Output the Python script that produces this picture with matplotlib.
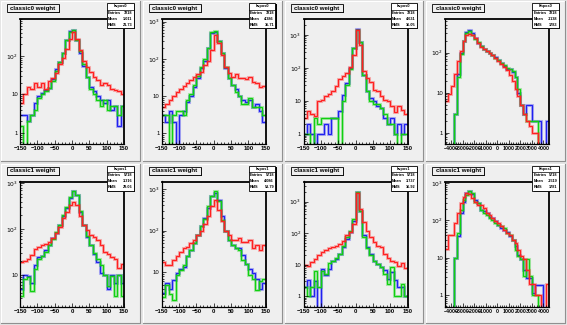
import numpy as np
import matplotlib
matplotlib.use('Agg')
import matplotlib.pyplot as plt
from matplotlib.patches import Rectangle
from matplotlib.ticker import FixedLocator, MultipleLocator, NullFormatter

plt.rcParams['font.family'] = ['Liberation Sans', 'DejaVu Sans']

titles = ['classic0 weight'] * 4 + ['classic1 weight'] * 4
stat_names = ['hvpos0', 'hvpos0', 'hvpos0', 'hhpos0', 'hvpos1', 'hvpos1', 'hvpos1', 'hhpos1']
entries = ['3218'] * 4 + ['5718'] * 4
means = ['1.011', '4.386', '4.631', '-1138', '3.316', '4.086', '3.737', '-1519']
rmss = ['21.73', '35.71', '16.05', '1783', '29.06', '53.79', '16.92', '1781']

# narrow pads: 30 bins from -150 to 150 ; wide pads: 36 bins from -4500 to 4500
p1_red = [6, 10, 16, 14, 20, 16, 20, 14, 22, 27, 37, 60, 90, 150, 280, 420, 280, 140, 75, 50, 38, 28, 24, 18, 20, 18, 14, 13, 12, 10]
p1_blue = [3, 3, 2, 3, 6, 9, 11, 13, 15, 25, 45, 70, 120, 250, 450, 480, 250, 120, 55, 28, 16, 12, 9, 7, 6, 7, 4, 5, 1.5, 5]
p1_green = [1.5, 0, 2, 3, 4, 8, 10, 12, 15, 22, 40, 70, 120, 250, 420, 470, 260, 130, 60, 28, 14, 10, 7, 5, 7, 4, 5, 5, 3, 5]

p2_red = [5, 6, 8, 10, 13, 15, 18, 22, 27, 33, 40, 45, 70, 90, 170, 430, 270, 130, 62, 42, 33, 40, 30, 30, 28, 33, 24, 22, 17, 18]
p2_blue = [3, 2, 4, 2, 0, 3, 4, 7, 10, 17, 30, 55, 90, 200, 500, 540, 300, 140, 55, 30, 20, 15, 10, 8, 7, 8, 5, 6, 4, 2]
p2_green = [3, 3, 0, 3, 4, 4, 3, 8, 11, 20, 35, 60, 100, 200, 520, 560, 300, 140, 60, 30, 20, 13, 10, 6, 6, 9, 5, 5, 5, 3]

p3_red = [3, 5, 4, 3.5, 10, 11, 14, 16, 20, 28, 45, 55, 70, 110, 250, 1400, 500, 80, 50, 38, 22, 20, 14, 11, 10, 7, 4.5, 7, 5.5, 4]
p3_blue = [1, 2, 1, 0, 1, 1, 2, 1, 3, 3, 5, 15, 35, 100, 400, 1500, 600, 60, 20, 12, 10, 7, 6, 3, 2, 3, 1, 2, 1, 2]
p3_green = [1, 1, 0, 3, 2, 3, 3, 3, 3, 3, 0, 10, 30, 90, 400, 1400, 600, 60, 20, 10, 8, 8, 6, 4, 2, 2, 1, 0, 1, 1]

p4_red = [6, 9, 15, 30, 60, 110, 200, 270, 290, 270, 230, 170, 140, 120, 110, 95, 85, 75, 62, 52, 44, 36, 28, 20, 12, 8, 5, 3, 2, 1.5, 1, 1, 0.3, 0, 0, 0]
p4_blue = [0, 0, 0, 3, 30, 100, 200, 320, 360, 300, 230, 170, 150, 125, 110, 100, 88, 78, 65, 55, 46, 40, 38, 33, 25, 10, 5, 3, 5, 5, 2, 2, 2, 0, 0, 2]
p4_green = [0, 0, 0, 3, 25, 90, 190, 300, 340, 280, 220, 180, 150, 125, 110, 95, 85, 75, 65, 55, 48, 42, 38, 34, 25, 12, 5, 3, 2, 2, 2, 2, 0, 0, 0, 0]

p5_red = [19, 20, 22, 27, 37, 40, 44, 48, 52, 62, 80, 110, 170, 240, 340, 400, 330, 190, 120, 95, 73, 68, 57, 44, 31, 29, 24, 22, 14, 17]
p5_blue = [4.8, 10, 9.5, 6.7, 16, 24, 26, 34, 44, 62, 80, 120, 190, 290, 480, 670, 570, 240, 120, 68, 44, 29, 19, 11, 10, 4.8, 10, 6.7, 10, 6.7]
p5_green = [3.4, 8, 9, 4.4, 13, 22, 26, 32, 44, 60, 85, 125, 200, 300, 500, 680, 560, 250, 125, 70, 44, 30, 22, 16, 10, 5.7, 9.5, 3.4, 10, 3.4]

p6_red = [18, 15, 15, 20, 24, 31, 37, 41, 50, 60, 79, 100, 140, 220, 380, 550, 310, 165, 100, 79, 60, 60, 65, 54, 54, 60, 37, 45, 34, 45]
p6_blue = [3.1, 5.4, 4, 6.5, 9.4, 12, 13.5, 24, 34, 50, 79, 125, 200, 345, 660, 800, 550, 220, 100, 60, 45, 37, 37, 26, 16, 12, 9.4, 7, 4, 5.4]
p6_green = [2.5, 5, 3, 2.1, 8.5, 11, 15, 24, 34, 50, 79, 125, 190, 380, 660, 870, 500, 180, 100, 60, 45, 37, 34, 20, 16, 8.5, 7, 3.7, 6, 7]

p7_red = [10, 9, 12, 15, 20, 25, 30, 33, 36, 40, 46, 58, 85, 110, 200, 1800, 600, 220, 120, 75, 52, 40, 36, 22, 17, 13.5, 12, 9, 11, 8]
p7_blue = [2, 3.2, 1, 3, 0, 7.5, 4.6, 7.5, 13.5, 15, 22, 36, 66, 107, 250, 2000, 520, 85, 36, 22, 13.5, 10.8, 8.5, 6.8, 3.6, 6, 3.2, 2, 2, 1]
p7_green = [2, 1, 2, 6.5, 2, 6.5, 5.2, 11, 13.5, 17, 22, 40, 75, 120, 280, 2000, 520, 75, 33, 20, 13.5, 10.8, 8.5, 5.2, 2.5, 8.5, 1, 1, 2.5, 1]

p8_red = [17, 40, 40, 85, 160, 290, 430, 530, 500, 400, 320, 260, 260, 210, 157, 140, 115, 94, 85, 69, 56, 46, 41, 30, 25, 16, 11, 9, 4.7, 2, 2, 1, 1, 0, 0, 2]
p8_blue = [0, 0, 0, 10, 37, 157, 320, 540, 600, 520, 360, 290, 190, 175, 157, 125, 115, 94, 76, 62, 56, 50, 37, 30, 20, 12, 9, 4.7, 2.8, 2.8, 1.1, 1.9, 1.9, 1.9, 0, 0]
p8_green = [0, 0, 0, 10, 46, 190, 360, 490, 600, 540, 320, 290, 190, 157, 140, 115, 105, 85, 76, 69, 62, 46, 41, 30, 16, 11, 9, 3.2, 9, 3.2, 1, 1, 0, 0, 0, 0]

pads = [
    (p1_red, p1_blue, p1_green), (p2_red, p2_blue, p2_green),
    (p3_red, p3_blue, p3_green), (p4_red, p4_blue, p4_green),
    (p5_red, p5_blue, p5_green), (p6_red, p6_blue, p6_green),
    (p7_red, p7_blue, p7_green), (p8_red, p8_blue, p8_green),
]
ylims = [(0.52, 900), (0.51, 1180), (0.5, 3000), (0.52, 690),
         (2.0, 1100), (1.5, 1500), (0.48, 4300), (0.49, 1100)]
wide = [False, False, False, True, False, False, False, True]

RED, BLUE, GREEN = '#ff2020', '#2020f0', '#10d010'
PADC = '#efefef'
FW, FH = 567.0, 325.0

fig = plt.figure(figsize=(5.67, 3.25), dpi=100)
fig.patch.set_facecolor('#e4e4e4')

bg = fig.add_axes([0, 0, 1, 1])
bg.set_xlim(0, FW); bg.set_ylim(FH, 0); bg.axis('off')
ov = fig.add_axes([0, 0, 1, 1], zorder=10)
ov.set_xlim(0, FW); ov.set_ylim(FH, 0); ov.axis('off')
ov.patch.set_alpha(0)

W, H = FW / 4, FH / 2
for i in range(8):
    c, r = i % 4, i // 4
    x0, y0 = c * W, r * H
    bg.add_patch(Rectangle((x0 + 1, y0 + 1), W - 3, H - 3, facecolor=PADC, edgecolor='none'))
    bg.plot([x0 + 1, x0 + 1, x0 + W - 2], [y0 + H - 2, y0 + 1, y0 + 1], color='white', lw=0.8)
    bg.plot([x0 + 1, x0 + W - 2, x0 + W - 2], [y0 + H - 2, y0 + H - 2, y0 + 1], color='#909090', lw=0.8)

    left, right, top, bottom = x0 + 20, x0 + 124, y0 + 19, y0 + 144
    ax = fig.add_axes([left / FW, 1 - bottom / FH, (right - left) / FW, (bottom - top) / FH])
    ax.set_facecolor('none')
    red, blue, green = pads[i]
    if wide[i]:
        edges = np.linspace(-4500, 4500, len(red) + 1)
        ax.set_xlim(-4500, 4500)
        ax.xaxis.set_major_locator(MultipleLocator(1000))
        ax.xaxis.set_minor_locator(MultipleLocator(200))
        xls = 3.7
    else:
        edges = np.linspace(-150, 150, len(red) + 1)
        ax.set_xlim(-150, 150)
        ax.xaxis.set_major_locator(MultipleLocator(50))
        ax.xaxis.set_minor_locator(MultipleLocator(10))
        xls = 4.3
    ax.set_yscale('log')
    ax.set_ylim(*ylims[i])
    for vals, col in ((blue, BLUE), (green, GREEN), (red, RED)):
        v = np.clip(np.asarray(vals, float), 1e-3, None)
        ax.stairs(v, edges, baseline=None, color=col, lw=2.2, alpha=0.3)
        ax.stairs(v, edges, baseline=None, color=col, lw=0.9)
    decs = [1, 10, 100, 1000]
    ax.yaxis.set_major_locator(FixedLocator(decs))
    ax.yaxis.set_minor_locator(FixedLocator([m * d for d in [0.1, 1, 10, 100, 1000] for m in range(2, 10)]))
    ax.yaxis.set_minor_formatter(NullFormatter())
    ax.set_yticklabels(['1', '10', r'$10^{2}$', r'$10^{3}$'])
    ax.tick_params(which='both', direction='in', width=0.5, labelsize=4.3, pad=1.5,
                   top=False, right=False)
    ax.tick_params(axis='x', labelsize=xls)
    ax.tick_params(which='major', length=3)
    ax.tick_params(which='minor', length=1.5)
    for lab in ax.get_xticklabels():
        lab.set_fontweight('bold')
    for sp in ax.spines.values():
        sp.set_linewidth(0.9)
    ax.spines['top'].set_linewidth(1.3)
    ax.spines['right'].set_linewidth(1.3)

    # title box
    ov.add_patch(Rectangle((x0 + 8.2, y0 + 5.2), 52, 8, facecolor='black', edgecolor='none'))
    ov.add_patch(Rectangle((x0 + 7, y0 + 4), 52, 8, facecolor=PADC, edgecolor='black', lw=0.6))
    ov.text(x0 + 33, y0 + 8.2, titles[i], ha='center', va='center', fontsize=4.4, fontweight='bold')

    # stats box
    sx, sy, sw, sh = x0 + 107, y0 + 3, 26.5, 25
    ov.add_patch(Rectangle((sx + 1.4, sy + 1.4), sw, sh, facecolor='black', edgecolor='none'))
    ov.add_patch(Rectangle((sx, sy), sw, sh, facecolor='white', edgecolor='black', lw=0.6))
    ov.plot([sx, sx + sw], [sy + 6.5, sy + 6.5], color='black', lw=0.5)
    ov.text(sx + sw / 2, sy + 3.4, stat_names[i], ha='center', va='center', fontsize=2.8, fontweight='bold')
    for k, (lab, val) in enumerate((('Entries', entries[i]), ('Mean', means[i]), ('RMS', rmss[i]))):
        yy = sy + 10 + k * 6
        ov.text(sx + 1.2, yy, lab, ha='left', va='center', fontsize=2.8, fontweight='bold')
        ov.text(sx + sw - 1.2, yy, val, ha='right', va='center', fontsize=2.8, fontweight='bold')

fig.savefig('out.png', dpi=100, facecolor=fig.get_facecolor())
